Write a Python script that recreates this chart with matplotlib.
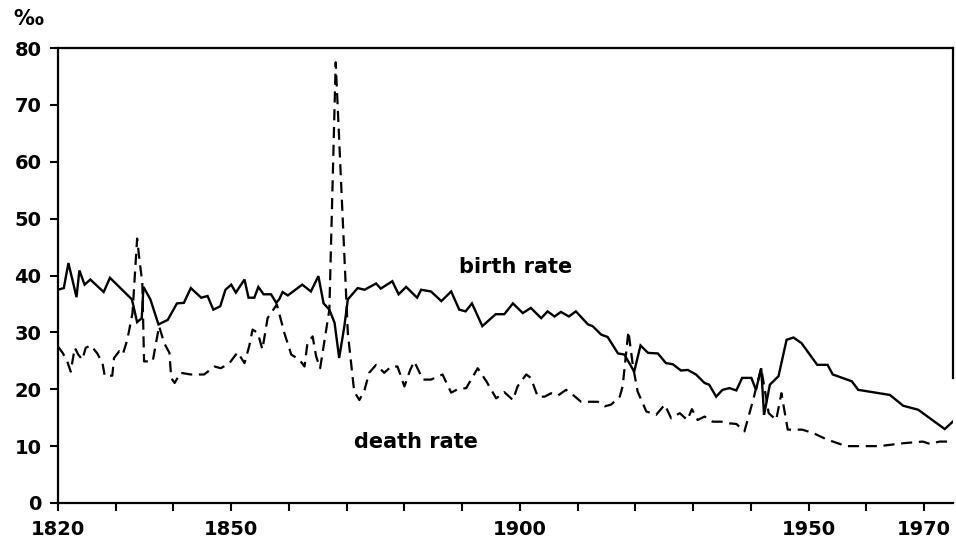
import matplotlib.pyplot as plt

# birth rate (solid), per mille
birth_years = [1820.0, 1821.0, 1821.8, 1823.2, 1823.7, 1824.6, 1825.6, 1827.9, 1829.0,
               1832.8, 1833.7, 1834.5, 1834.8, 1836.0, 1837.4, 1839.0, 1840.6, 1841.8,
               1843.0, 1844.8, 1845.9, 1846.9, 1848.1, 1849.0, 1850.0, 1850.8, 1852.3,
               1853.0, 1854.0, 1854.7, 1855.6, 1856.9, 1857.8, 1858.3, 1858.9, 1859.8,
               1862.3, 1863.8, 1865.1, 1866.0, 1867.0, 1867.9, 1868.7, 1869.6, 1870.2,
               1871.9, 1873.1, 1875.1, 1875.9, 1877.9, 1879.0, 1880.3, 1882.2, 1882.9,
               1884.6, 1886.4, 1888.1, 1889.5, 1890.6, 1891.7, 1893.5, 1895.8, 1897.3,
               1898.8, 1900.5, 1901.9, 1903.7, 1904.8, 1906.0, 1907.1, 1908.5, 1909.7,
               1911.8, 1912.6, 1914.1, 1915.2, 1917.0, 1918.1, 1919.8, 1920.9, 1922.2,
               1923.9, 1925.3, 1926.5, 1927.9, 1929.1, 1930.5, 1932.0, 1932.8, 1934.0,
               1935.1, 1936.3, 1937.5, 1938.5, 1940.1, 1940.9, 1941.8, 1942.3, 1943.3,
               1944.8, 1946.2, 1947.4, 1948.8, 1951.5, 1953.3, 1954.2, 1957.5, 1958.6,
               1964.1, 1966.4, 1969.0, 1973.6, 1975.3]
birth_rate = [37.5, 37.8, 42.2, 36.2, 40.9, 38.4, 39.3, 37.1, 39.6,
              35.8, 31.8, 32.5, 38.0, 35.8, 31.4, 32.2, 35.1, 35.2,
              37.8, 36.1, 36.4, 34.0, 34.6, 37.5, 38.4, 37.0, 39.3,
              36.1, 36.1, 38.0, 36.7, 36.7, 35.2, 35.8, 37.1, 36.5,
              38.4, 37.2, 39.9, 35.1, 34.0, 31.7, 25.5, 31.1, 35.8,
              37.8, 37.5, 38.6, 37.7, 39.0, 36.7, 38.0, 36.1, 37.5,
              37.2, 35.5, 37.2, 34.0, 33.7, 35.1, 31.1, 33.2, 33.2,
              35.1, 33.4, 34.3, 32.5, 33.7, 32.8, 33.6, 32.8, 33.7,
              31.4, 31.1, 29.6, 29.2, 26.3, 26.1, 23.1, 27.7, 26.4,
              26.3, 24.6, 24.4, 23.3, 23.4, 22.6, 21.1, 20.8, 18.7,
              19.9, 20.2, 19.8, 22.0, 22.0, 19.9, 23.7, 15.5, 20.8,
              22.3, 28.7, 29.1, 28.1, 24.3, 24.3, 22.6, 21.4, 19.9,
              19.0, 17.1, 16.4, 13.0, 14.6]

# death rate (dashed), per mille
death_years = [1820.0, 1820.8, 1821.6, 1822.2, 1822.9, 1823.5, 1824.2, 1824.8, 1825.7,
               1826.8, 1827.7, 1828.1, 1829.4, 1829.7, 1830.6, 1831.2, 1832.0, 1832.9,
               1833.7, 1834.1, 1834.6, 1834.9, 1836.4, 1837.5, 1838.4, 1839.3, 1839.6,
               1840.2, 1841.2, 1843.0, 1845.3, 1847.1, 1848.2, 1849.7, 1851.1, 1852.3,
               1853.1, 1853.7, 1854.6, 1855.4, 1856.3, 1857.9, 1858.3, 1859.2, 1860.4,
               1861.8, 1862.7, 1863.2, 1864.1, 1864.7, 1865.4, 1867.0, 1868.1, 1870.2,
               1871.3, 1872.2, 1873.1, 1873.9, 1875.1, 1876.5, 1877.7, 1878.8, 1880.0,
               1881.0, 1881.7, 1883.2, 1884.6, 1886.6, 1888.1, 1889.2, 1890.7, 1892.7,
               1894.2, 1895.9, 1897.3, 1898.8, 1899.6, 1901.1, 1901.9, 1903.1, 1904.3,
               1905.4, 1906.6, 1908.0, 1909.2, 1910.6, 1913.5, 1914.7, 1915.8, 1917.3,
               1917.8, 1918.8, 1919.6, 1920.4, 1921.9, 1923.6, 1925.1, 1926.2, 1927.7,
               1929.0, 1929.8, 1930.8, 1932.0, 1933.4, 1934.9, 1936.3, 1937.5, 1938.9,
               1940.4, 1941.8, 1943.1, 1944.4, 1945.3, 1946.4, 1948.9, 1950.8, 1953.1,
               1956.5, 1962.3, 1966.3, 1969.8, 1971.0, 1972.7, 1975.5]
death_rate = [27.5, 26.4, 24.9, 23.1, 27.3, 26.1, 25.2, 27.3, 27.7,
              26.3, 24.6, 22.3, 22.4, 25.5, 26.7, 26.1, 28.7, 33.4,
              46.5, 42.8, 38.7, 24.9, 24.9, 31.1, 28.1, 26.4, 22.0,
              21.1, 22.9, 22.6, 22.6, 24.0, 23.7, 24.6, 26.5, 24.6,
              27.5, 30.5, 29.9, 27.0, 32.5, 34.9, 33.4, 29.9, 26.1,
              25.2, 24.0, 28.1, 29.3, 25.8, 23.7, 34.0, 77.5, 29.9,
              19.6, 18.1, 19.9, 22.9, 24.3, 22.9, 24.0, 24.0, 20.5,
              23.4, 24.9, 21.7, 21.7, 22.6, 19.4, 20.0, 20.2, 23.7,
              21.4, 18.4, 19.5, 18.1, 20.5, 22.6, 22.0, 18.7, 18.7,
              19.3, 18.9, 19.9, 19.0, 17.8, 17.8, 17.0, 17.3, 18.7,
              20.5, 30.2, 24.0, 19.6, 16.1, 15.5, 17.3, 14.9, 15.8,
              14.6, 16.5, 14.6, 15.2, 14.3, 14.3, 14.0, 13.9, 12.6,
              18.1, 23.7, 15.8, 14.6, 19.3, 12.9, 12.9, 12.3, 11.2,
              10.0, 10.0, 10.5, 10.8, 10.4, 10.8, 10.8]

x_ticks = list(range(1820, 1971, 10))
x_labels = ['1820', '', '', '1850', '', '', '', '', '1900', '', '', '', '', '1950', '', '1970']
y_ticks = list(range(0, 81, 10))

plt.rcParams['font.family'] = 'DejaVu Sans'
plt.rcParams['font.weight'] = 'bold'

fig = plt.figure(figsize=(9.56, 5.39), dpi=100)
ax = fig.add_axes([0.0607, 0.0668, 0.936, 0.844])

ax.plot(birth_years, birth_rate, color='black', lw=1.7, solid_joinstyle='miter')
ax.plot(death_years, death_rate, color='black', lw=1.6, ls=(0, (5, 3)))

ax.set_xlim(1820, 1975)
ax.set_ylim(0, 80)
ax.set_xticks(x_ticks)
ax.set_xticklabels(x_labels)
ax.set_yticks(y_ticks)
ax.tick_params(direction='out', length=6, width=1.5, labelsize=14, pad=6, color='black')

for s in ax.spines.values():
    s.set_linewidth(1.6)
    s.set_color('black')
ax.spines['right'].set_bounds(22, 80)

ax.text(1899.3, 41.5, 'birth rate', ha='center', va='center', fontsize=15, fontweight='bold')
ax.text(1882.0, 10.7, 'death rate', ha='center', va='center', fontsize=15, fontweight='bold')
fig.text(13 / 956, 1 - 29 / 539, '\u2030', ha='left', va='bottom', fontsize=15, fontweight='bold')

fig.savefig('out.png', dpi=100)
